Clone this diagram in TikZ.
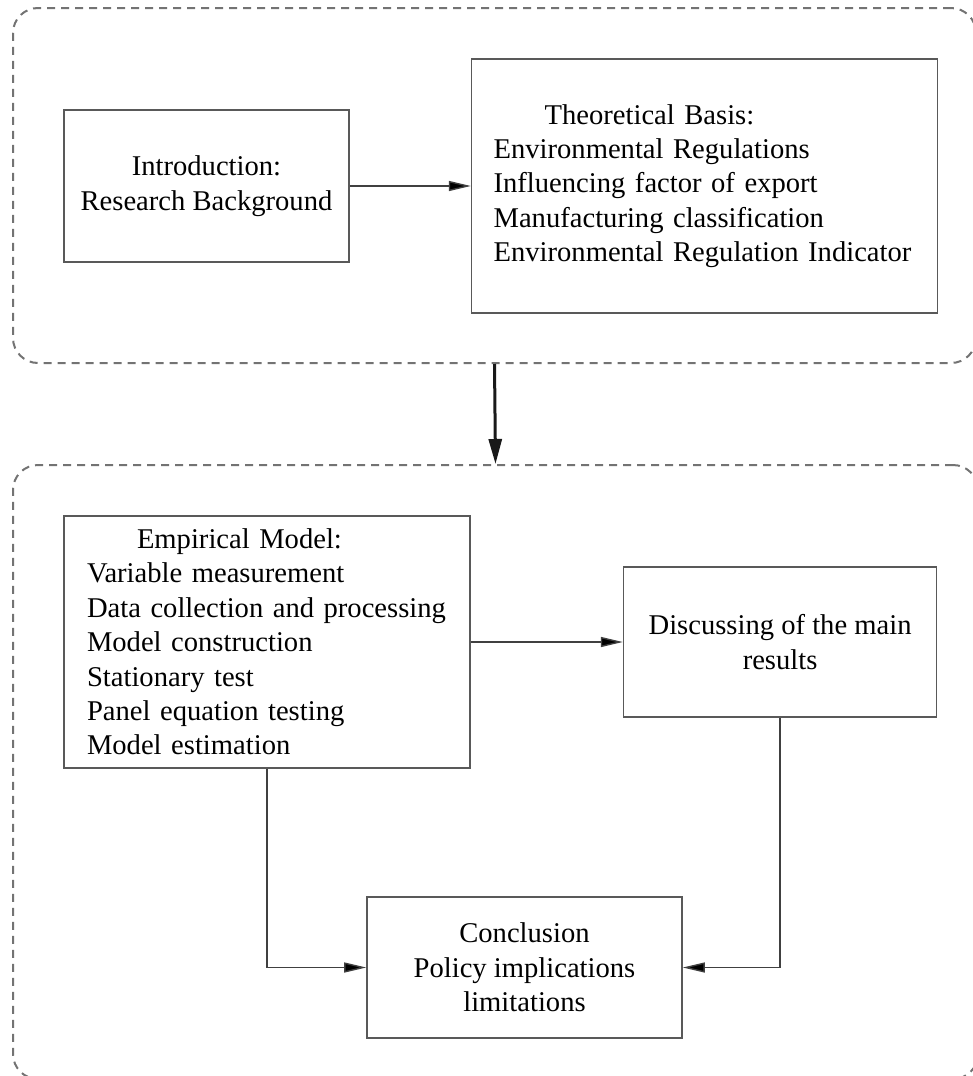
\documentclass[tikz,border=0pt]{standalone}
\usepackage{fontspec}
\setmainfont{Liberation Serif}
\usepackage{tikz}
\usetikzlibrary{positioning,arrows.meta}

\begin{document}
\begin{tikzpicture}[
  x=1pt, y=-1pt,
  font=\fontsize{28.6}{34.4}\selectfont,
  box/.style={rectangle, draw=black!65, line width=1.6pt, inner ysep=4pt, align=center},
  listbox/.style={box, align=left},
  frame/.style={rectangle, draw=black!55, line width=2pt, dash pattern=on 8pt off 6pt, rounded corners=25pt},
  arr/.style={-{Triangle[length=22pt,width=10pt,fill=black]}, line width=1.4pt, draw=black!75},
  bigarr/.style={-{Triangle[length=25pt,width=13pt]}, line width=3pt, draw=black!90},
]
\useasboundingbox (0,0) rectangle (973,1076);
\clip (0,0) rectangle (973,1076);

% dashed containers
\node[frame, minimum width=963pt, minimum height=355pt] (upper) at (494.5,185.5) {};
\node[frame, minimum width=965pt, minimum height=614pt] (lower) at (495.5,772) {};
\draw[bigarr] (upper.south) -- (lower.north);

% upper part
\node[box, minimum width=285pt, minimum height=152pt] (intro) at (206.5,186) {Introduction:\\Research Background};
\node[listbox, right=121pt of intro, minimum height=254pt, inner xsep=22pt, text width=422pt] (theory)
  {\hspace*{51pt}Theoretical Basis:\\Environmental Regulations\\Influencing factor of export\\Manufacturing classification\\Environmental Regulation Indicator};
\draw[arr] (intro) -- (theory);

% lower part
\node[listbox, minimum height=252pt, inner xsep=23pt, text width=360pt] (empirical) at (267,642)
  {\hspace*{50pt}Empirical Model:\\Variable measurement\\Data collection and processing\\Model construction\\Stationary test\\Panel equation testing\\Model estimation};
\node[box, right=152pt of empirical, minimum width=313pt, minimum height=150pt] (discuss) {Discussing of the main\\results};
\node[box, minimum width=315pt, minimum height=141pt] (concl) at (524.5,967.5) {Conclusion\\Policy implications\\limitations};
\draw[arr] (empirical) -- (discuss);
\draw[arr] (empirical.south) |- (concl.west);
\draw[arr] (discuss.south) |- (concl.east);
\end{tikzpicture}
\end{document}
